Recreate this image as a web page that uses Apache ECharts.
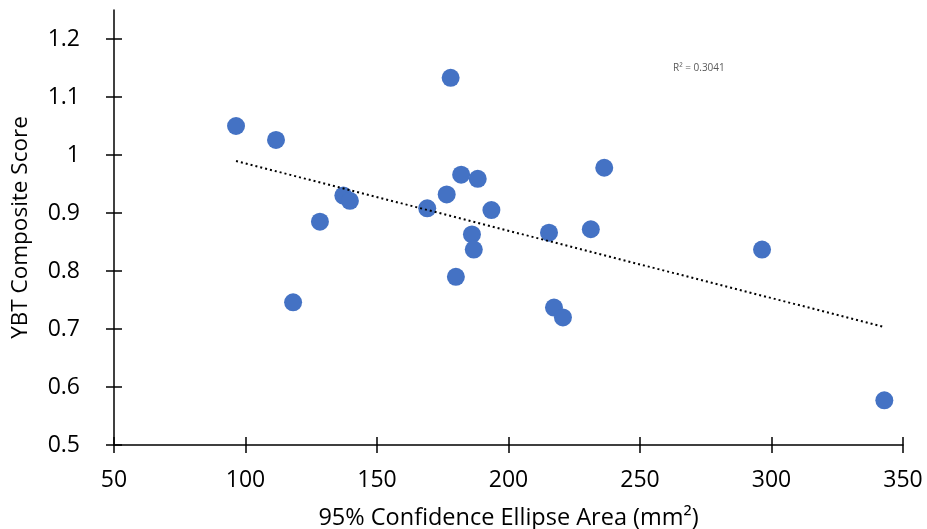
<!DOCTYPE html>
<html>
<head>
<meta charset="utf-8">
<script src="https://cdn.jsdelivr.net/npm/echarts@6/dist/echarts.min.js"></script>
<style>
  html, body { margin: 0; padding: 0; background: #fff; }
  #main { width: 927px; height: 529px; }
</style>
</head>
<body>
<div id="main"></div>
<script>
// ellipse area (mm2) vs composite score
var areaValues = [96.4, 111.6, 118.1, 128.3, 137.2, 139.7, 169.1, 176.5, 178.0, 182.0, 188.3,
    193.5, 186.1, 186.8, 180.0, 215.4, 231.3, 236.4, 217.3, 220.7, 296.4, 342.9];
var scoreValues = [1.050, 1.026, 0.746, 0.885, 0.930, 0.921, 0.908, 0.932, 1.133, 0.966, 0.959,
    0.905, 0.863, 0.837, 0.790, 0.866, 0.872, 0.978, 0.737, 0.720, 0.837, 0.577];
var yTicks = [0.5, 0.6, 0.7, 0.8, 0.9, 1, 1.1, 1.2];
var xTicks = [50, 100, 150, 200, 250, 300, 350];
var rSquaredText = 'R² = 0.3041';

var points = areaValues.map(function (x, i) { return [x, scoreValues[i]]; });

// least squares fit for the trend line
var n = areaValues.length, sx = 0, sy = 0, sxx = 0, sxy = 0;
for (var i = 0; i < n; i++) {
    sx += areaValues[i]; sy += scoreValues[i];
    sxx += areaValues[i] * areaValues[i]; sxy += areaValues[i] * scoreValues[i];
}
var slope = (n * sxy - sx * sy) / (n * sxx - sx * sx);
var intercept = (sy - slope * sx) / n;
var xMin = Math.min.apply(null, areaValues), xMax = Math.max.apply(null, areaValues);
var trend = [[xMin, intercept + slope * xMin], [xMax, intercept + slope * xMax]];

var chartDom = document.getElementById('main');
var myChart = echarts.init(chartDom);
var font = '"Open Sans", "Liberation Sans", sans-serif';
var option;

var axisLine = { show: true, lineStyle: { color: '#000', width: 1.5 } };
var tickStyle = { color: '#000', width: 1.5 };

option = {
    backgroundColor: '#fff',
    animation: false,
    title: {
        text: rSquaredText,
        left: 668,
        top: 58,
        textStyle: { fontSize: 10, fontWeight: 'normal', color: '#595959', fontFamily: font }
    },
    grid: { left: 114, right: 24, top: 10, bottom: 84, outerBoundsMode: 'none', containLabel: false },
    xAxis: [
        {
            type: 'value', min: 50, max: 350, interval: 50,
            name: '95% Confidence Ellipse Area (mm²)',
            nameLocation: 'middle', nameGap: 61,
            nameTextStyle: { fontSize: 23.5, color: '#000', fontFamily: font },
            axisLine: axisLine,
            axisTick: { show: true, length: 8, lineStyle: tickStyle },
            axisLabel: { fontSize: 23, color: '#000', fontFamily: font, margin: 24 },
            splitLine: { show: false }
        },
        {
            // upper half of the crossing ticks
            type: 'value', min: 50, max: 350, interval: 50, position: 'bottom', offset: -8,
            axisLine: { show: false },
            axisTick: { show: true, length: 8, lineStyle: tickStyle },
            axisLabel: { show: false },
            splitLine: { show: false }
        }
    ],
    yAxis: [
        {
            type: 'value', min: 0.5, max: 1.25,
            name: 'YBT Composite Score',
            nameLocation: 'middle', nameGap: 82,
            nameTextStyle: { fontSize: 22.5, color: '#000', fontFamily: font },
            axisLine: axisLine,
            axisTick: { show: true, length: 8, customValues: yTicks, lineStyle: tickStyle },
            axisLabel: { fontSize: 23, color: '#000', fontFamily: font, margin: 34, customValues: yTicks },
            splitLine: { show: false }
        },
        {
            // right half of the crossing ticks
            type: 'value', min: 0.5, max: 1.25, position: 'left', offset: -8,
            axisLine: { show: false },
            axisTick: { show: true, length: 8, customValues: yTicks, lineStyle: tickStyle },
            axisLabel: { show: false },
            splitLine: { show: false }
        }
    ],
    series: [
        {
            name: 'Trend',
            type: 'line',
            data: trend,
            symbol: 'none',
            lineStyle: { color: '#000', width: 2, type: [2, 3] },
            z: 3
        },
        {
            name: 'Participants',
            type: 'scatter',
            data: points,
            symbolSize: 18,
            itemStyle: { color: '#4472C4', opacity: 1 },
            z: 2
        }
    ]
};

option && myChart.setOption(option);
</script>
</body>
</html>
